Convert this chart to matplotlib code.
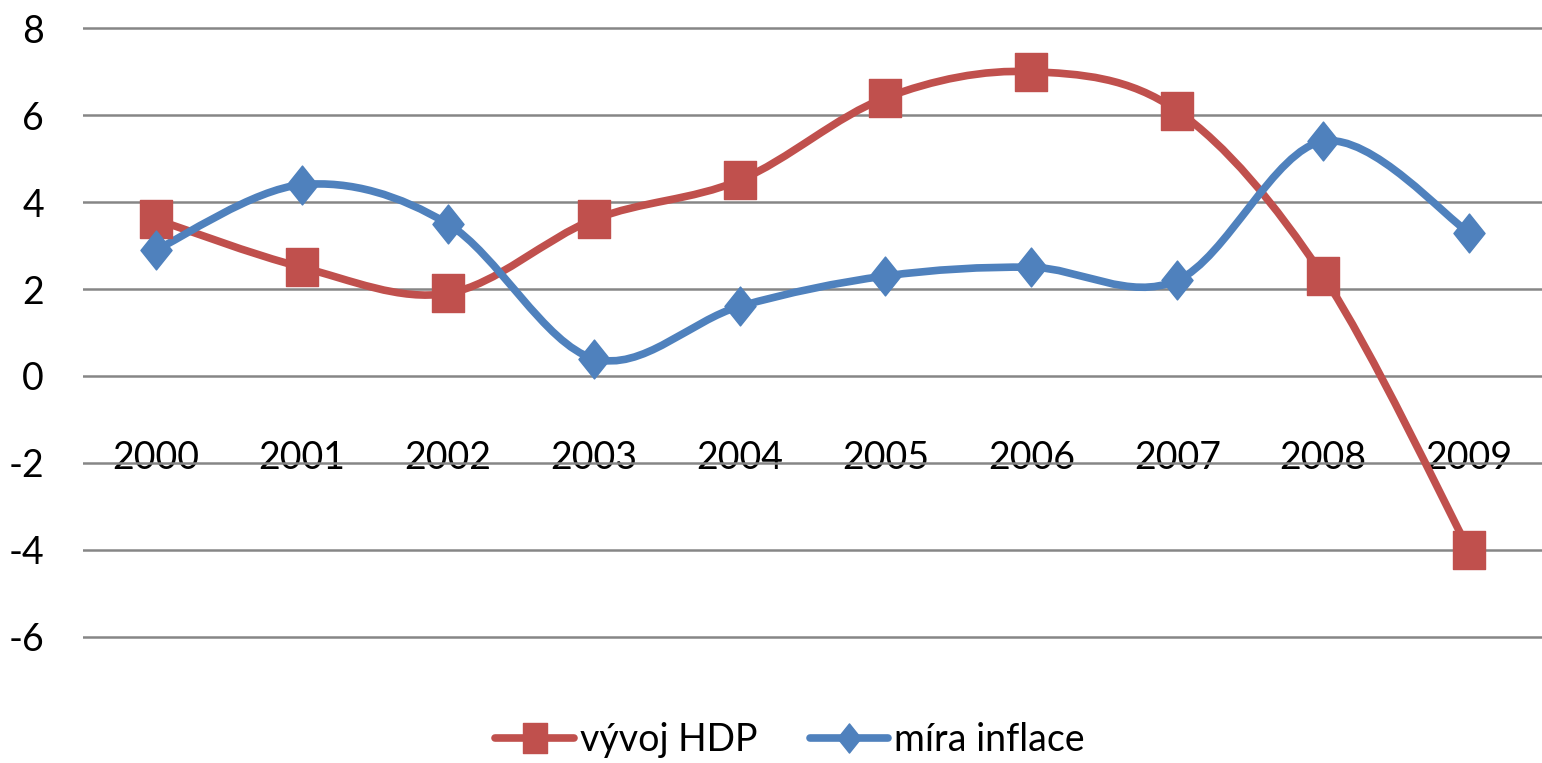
import numpy as np
import matplotlib.pyplot as plt
from matplotlib.path import Path
from matplotlib.patches import PathPatch
from matplotlib.lines import Line2D

plt.rcParams['font.family'] = ['Lato', 'DejaVu Sans']
plt.rcParams['axes.unicode_minus'] = False

# Data
roky = ['2000', '2001', '2002', '2003', '2004', '2005', '2006', '2007', '2008', '2009']
hdp = [3.6, 2.5, 1.9, 3.6, 4.5, 6.4, 7.0, 6.1, 2.3, -4.0]
inflace = [2.9, 4.4, 3.5, 0.4, 1.6, 2.3, 2.5, 2.2, 5.4, 3.3]

red = '#C0504D'
blue = '#4F81BD'

# Excel-like markers (slightly taller than wide, as in the picture)
square = Path([(-0.8, -1), (0.8, -1), (0.8, 1), (-0.8, 1), (-0.8, -1)],
              [Path.MOVETO, Path.LINETO, Path.LINETO, Path.LINETO, Path.CLOSEPOLY])
diamond = Path([(0, 1), (0.8, 0), (0, -1), (-0.8, 0), (0, 1)],
               [Path.MOVETO, Path.LINETO, Path.LINETO, Path.LINETO, Path.CLOSEPOLY])


def smooth_path(xs, ys):
    # bezier path through the points, like Excel "smoothed line"
    pts = np.column_stack([xs, ys]).astype(float)
    n = len(pts)
    verts = [pts[0]]
    codes = [Path.MOVETO]
    for i in range(n - 1):
        p0 = pts[i - 1] if i > 0 else pts[i]
        p1 = pts[i]
        p2 = pts[i + 1]
        p3 = pts[i + 2] if i + 2 < n else pts[i + 1]
        c1 = p1 + (p2 - p0) / 6.0
        c2 = p2 - (p3 - p1) / 6.0
        verts += [c1, c2, p2]
        codes += [Path.CURVE4] * 3
    return Path(verts, codes)


fig = plt.figure(figsize=(15.42, 7.63), dpi=100)
# axes spans y = -6.05 .. 8.05 (small margin so edge gridlines are not clipped)
ax = fig.add_axes([83 / 1542, 1 - 639 / 763, 1 - 83 / 1542, (639 - 26) / 763])

x = np.arange(len(roky))
for vals, col, mk, lab in [(hdp, red, square, 'vývoj HDP'), (inflace, blue, diamond, 'míra inflace')]:
    ax.add_patch(PathPatch(smooth_path(x, vals), facecolor='none', edgecolor=col,
                           lw=5.5, capstyle='round', joinstyle='round', zorder=3))
    ax.plot(x, vals, linestyle='none', marker=mk, markersize=28, color=col, zorder=4)

ax.set_xlim(-0.5, 9.5)
ax.set_ylim(-6.05, 8.05)
ax.set_yticks(np.arange(-6, 9, 2))
ax.set_xticks(x)
ax.set_xticklabels(roky)
ax.grid(axis='y', color='#868686', lw=1.8)
ax.set_axisbelow(True)
for s in ax.spines.values():
    s.set_visible(False)
ax.spines['bottom'].set_position(('data', 0))
ax.tick_params(axis='x', length=0, pad=46, labelsize=27)
ax.tick_params(axis='y', length=0, pad=28, labelsize=27)

handles = [
    Line2D([], [], color=red, lw=5.5, marker=square, markersize=21, solid_capstyle='round'),
    Line2D([], [], color=blue, lw=5.5, marker=diamond, markersize=21, solid_capstyle='round'),
]
fig.legend(handles, ['vývoj HDP', 'míra inflace'], loc='center',
           bbox_to_anchor=(790 / 1542, 1 - 740 / 763), ncol=2, frameon=False,
           fontsize=27, handlelength=2.1, handletextpad=0.15, columnspacing=1.4)

fig.savefig('out.png', dpi=100)
